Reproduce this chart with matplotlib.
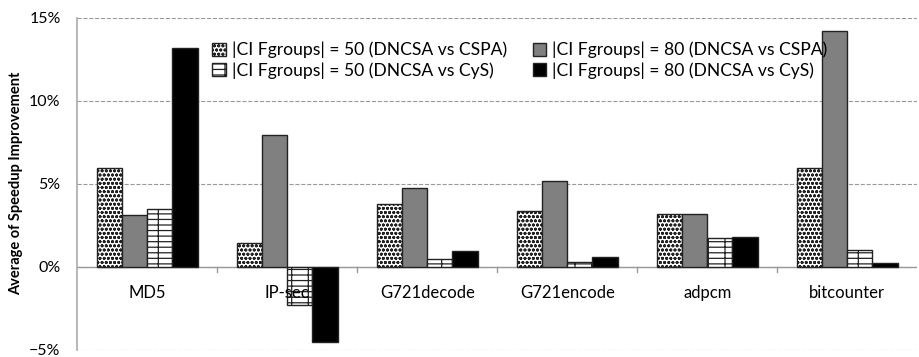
import numpy as np
import matplotlib.pyplot as plt
from matplotlib.ticker import PercentFormatter

plt.rcParams['font.family'] = ['Lato', 'DejaVu Sans']
plt.rcParams['hatch.linewidth'] = 0.9

benchmarks = ['MD5', 'IP-sec', 'G721decode', 'G721encode', 'adpcm', 'bitcounter']
# speedup improvement in %
cspa_50 = [5.95, 1.4, 3.78, 3.38, 3.18, 5.94]
cspa_80 = [3.14, 7.93, 4.74, 5.18, 3.18, 14.2]
cys_50 = [3.5, -2.3, 0.45, 0.25, 1.75, 0.99]
cys_80 = [13.2, -4.55, 0.95, 0.59, 1.78, 0.2]

labels = ['|CI Fgroups| = 50 (DNCSA vs CSPA)', '|CI Fgroups| = 80 (DNCSA vs CSPA)',
          '|CI Fgroups| = 50 (DNCSA vs CyS)', '|CI Fgroups| = 80 (DNCSA vs CyS)']
series = [cspa_50, cspa_80, cys_50, cys_80]
styles = [dict(color='white', hatch='oooo'),
          dict(color='#808080', hatch=None),
          dict(color='white', hatch='---|'),
          dict(color='black', hatch=None)]

fig = plt.figure(figsize=(9.2, 3.57), dpi=100)
ax = fig.add_axes([0.084, 0.021, 0.913, 0.929])

x = np.arange(len(benchmarks)) + 0.5
w = 0.18
bars = []
for i, (vals, st) in enumerate(zip(series, styles)):
    b = ax.bar(x + (i - 1.5) * w, vals, w, facecolor=st['color'], hatch=st['hatch'],
               edgecolor='#222222', linewidth=1.0, label=labels[i], zorder=3)
    bars.append(b)

ax.set_xlim(0, len(benchmarks))
ax.set_ylim(-5, 15)
ax.set_yticks([-5, 0, 5, 10, 15])
ax.yaxis.set_major_formatter(PercentFormatter(decimals=0))
ax.grid(axis='y', linestyle='--', color='#999999', linewidth=0.8, zorder=0)
ax.axhline(0, color='#999999', linewidth=1.0, zorder=2)

for s in ['top', 'right', 'bottom']:
    ax.spines[s].set_visible(False)
ax.spines['left'].set_color('#aaaaaa')
ax.spines['left'].set_linewidth(1.2)
ax.tick_params(axis='y', length=0, labelsize=11.5, pad=12)
ax.tick_params(axis='x', length=0)
ax.set_xticks([])

for xi, name in zip(x, benchmarks):
    ax.text(xi, -1.6, name, ha='center', va='center', fontsize=12)
for xb in range(1, len(benchmarks)):
    ax.plot([xb, xb], [0, -0.35], color='#999999', linewidth=1.0, zorder=2)

ax.set_ylabel('Average of Speedup Improvement', fontsize=10.5, fontweight='bold', labelpad=4)

order = [0, 2, 1, 3]
ax.legend([bars[i] for i in order], [labels[i] for i in order], ncol=2,
          loc='upper center', bbox_to_anchor=(0.527, 0.975), frameon=False,
          fontsize=12.6, handlelength=0.75, handleheight=0.75, handletextpad=0.35,
          columnspacing=1.5, labelspacing=0.2)

fig.savefig('out.png', dpi=100)
